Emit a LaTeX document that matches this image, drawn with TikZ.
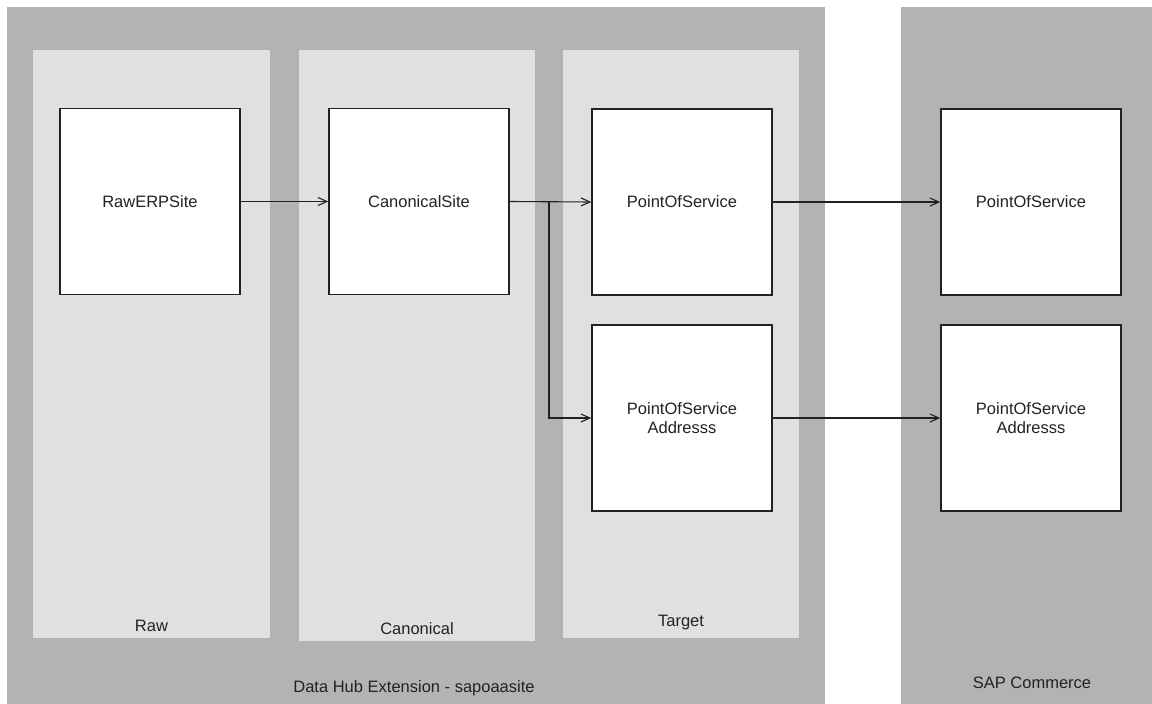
\documentclass[tikz,border=0pt]{standalone}
\usepackage{fontspec}
\setmainfont{Liberation Sans}
\usetikzlibrary{arrows.meta}
\definecolor{groupgray}{HTML}{B3B3B3}
\definecolor{lanegray}{HTML}{E0E0E0}
\definecolor{inkgray}{HTML}{222222}
\tikzset{
  group/.style={fill=groupgray, draw=none},
  lane/.style={fill=lanegray, draw=none},
  entity/.style={draw=inkgray, line width=1.4pt, fill=white, inner sep=0pt,
    minimum width=180pt, minimum height=186pt, align=center,
    font=\fontsize{16.5}{19}\selectfont, text=inkgray},
  caption/.style={font=\fontsize{16.5}{19}\selectfont, text=inkgray, inner sep=0pt},
  flow/.style={line width=1.1pt, draw=inkgray,
    -{Straight Barb[length=9pt,width=8pt,line width=1.1pt]}},
  link/.style={line width=1.1pt, draw=inkgray}
}
\begin{document}
\begin{tikzpicture}[x=1pt,y=-1pt]
  \useasboundingbox (0,0) rectangle (1152,704);
  % system containers
  \fill[group] (7,7) rectangle (825,704);
  \fill[group] (901,7) rectangle (1152,704);
  % Data Hub pools
  \fill[lane] (33,50) rectangle (270,638);
  \fill[lane] (299,50) rectangle (535,641);
  \fill[lane] (563,50) rectangle (799,638);

  % items
  \node[entity] (raw) at (150,201.5) {RawERPSite};
  \node[entity] (can) at (419,201.5) {CanonicalSite};
  \node[entity] (pos) at (682,202) {PointOfService};
  \node[entity] (posa) at (682,418) {PointOfService\\Addresss};
  \node[entity] (hpos) at (1031,202) {PointOfService};
  \node[entity] (hposa) at (1031,418) {PointOfService\\Addresss};

  % captions
  \node[caption] (lraw) at (151.5,626) {Raw};
  \node[caption] (lcan) at (417,629) {Canonical};
  \node[caption] (ltgt) at (681,623) {Target};
  \node[caption] (ldh) at (414,688) {Data Hub Extension - sapoaasite};
  \node[caption] (lsap) at (1032,683) {SAP Commerce};

  % flows
  \coordinate (split) at (549,201.5);
  \draw[flow] (raw.east) -- (can.west);
  \draw[flow] (can.east) -- (pos.west);
  \draw[link] (can.east) -- (split);
  \draw[flow] (split) |- (posa.west);
  \draw[flow] (pos.east) -- (hpos.west);
  \draw[flow] (posa.east) -- (hposa.west);
\end{tikzpicture}
\end{document}
